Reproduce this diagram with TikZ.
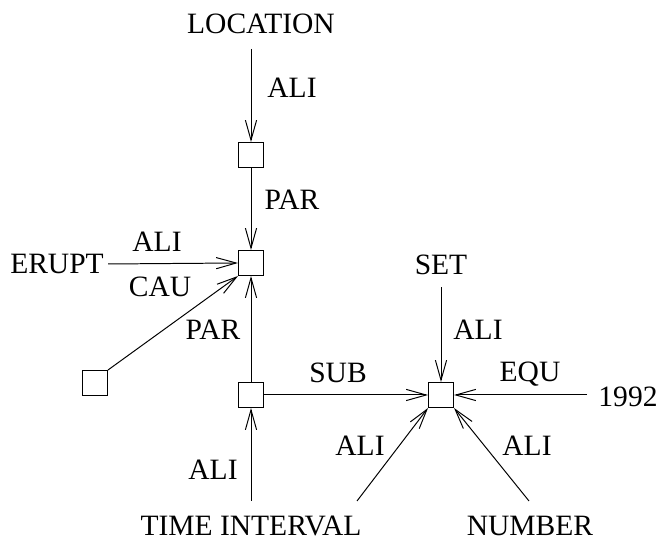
\documentclass[tikz,border=0pt]{standalone}
\usepackage{fontspec}
\setmainfont{Liberation Serif}
\usetikzlibrary{arrows.meta, positioning}

\begin{document}
\begin{tikzpicture}[
    node distance=1cm,
    concept/.style={inner sep=0pt, font=\fontsize{21}{25}\selectfont},
    role/.style={inner sep=0pt, font=\fontsize{21}{25}\selectfont},
    box/.style={rectangle, draw, line width=0.7pt, minimum size=0.625cm, inner sep=0pt},
    arrow/.style={-{Straight Barb[length=0.5cm, width=0.28cm, line width=0.7pt]}, line width=0.7pt}
]
\useasboundingbox (0,0) rectangle (16.45,13.55);

% Concepts
\node[concept] (location) at (6.525, 12.95) {LOCATION};
\node[concept] (erupt) at (1.425, 6.95) {ERUPT};
\node[concept] (set) at (11.025, 6.925) {SET};
\node[concept] (year) at (15.7, 3.625) {1992};
\node[concept] (time) at (6.275, 0.4) {TIME INTERVAL};
\node[concept] (number) at (13.25, 0.4) {NUMBER};

% Boxes
\node[box] (b1) at (6.275, 9.675) {};
\node[box] (b2) at (6.275, 6.975) {};
\node[box] (b3) at (6.275, 3.675) {};
\node[box] (bl) at (2.375, 3.975) {};
\node[box] (br) at (11.025, 3.675) {};

% Free ends
\coordinate (locend) at (6.275, 12.325);
\coordinate (yearend) at (14.675, 3.675);
\coordinate (timeend) at (6.275, 1.025);
\coordinate (leftend) at (8.925, 1.025);
\coordinate (rightend) at (13.225, 1.025);

% Connectors
\draw[arrow] (locend) -- (b1.north);
\draw[arrow] (b1.south) -- (b2.north);
\draw[arrow] ([xshift=0.1cm]erupt.east) -- (b2.west);
\draw[arrow] (bl.north east) -- (b2.south west);
\draw[arrow] (b3.north) -- (b2.south);
\draw[arrow] (timeend) -- (b3.south);
\draw[arrow] (b3.east) -- (br.west);
\draw[arrow] ([yshift=-0.3cm]set.south) -- (br.north);
\draw[arrow] (yearend) -- (br.east);
\draw[arrow] (leftend) -- (br.south west);
\draw[arrow] (rightend) -- (br.south east);

% Labels
\node[role] (l1) at (7.3, 11.35) {ALI};
\node[role] (l2) at (7.3, 8.55) {PAR};
\node[role] (l3) at (3.925, 7.5) {ALI};
\node[role] (l4) at (4.0, 6.375) {CAU};
\node[role] (l5) at (5.325, 5.3) {PAR};
\node[role] (l6) at (5.325, 1.8) {ALI};
\node[role] (l7) at (8.45, 4.225) {SUB};
\node[role] (l8) at (11.95, 5.3) {ALI};
\node[role] (l9) at (13.25, 4.2) {EQU};
\node[role] (l10) at (9.0, 2.4) {ALI};
\node[role] (l11) at (13.175, 2.4) {ALI};

\end{tikzpicture}
\end{document}
